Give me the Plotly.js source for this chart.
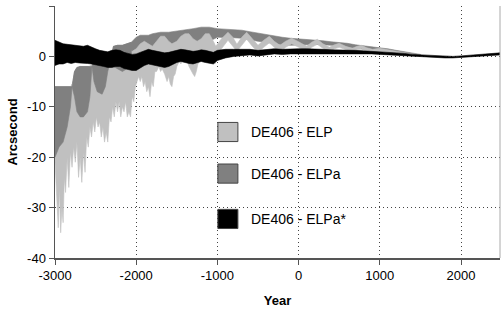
<!DOCTYPE html>
<html>
<head>
<meta charset="utf-8">
<script src="https://cdn.plot.ly/plotly-3.0.1.min.js"></script>
<style>html,body{margin:0;padding:0;background:#fff;}#chart{width:503px;height:309px;}</style>
</head>
<body>
<div id="chart"></div>
<script>
// Series names
const seriesNames = ["DE406 - ELP", "DE406 - ELPa", "DE406 - ELPa*"];

// DE406 - ELP (light gray): upper envelope
const elpUpYears = [-3000,-2900,-2830,-2790,-2750,-2700,-2660,-2620,-2580,-2540,-2500,-2450,-2400,-2360,-2320,-2280,-2240,-2200,-2150,-2100,-2050,-2000,-1950,-1900,-1850,-1800,-1750,-1700,-1650,-1600,-1560,-1500,-1450,-1400,-1350,-1300,-1250,-1200,-1150,-1100,-1050,-1020,-950,-870,-810,-760,-700,-640,-570,-500,-430,-360,-300,-230,-160,-85,0,100,160,230,300,380,440,500,580,660,720,775,840,910,1000,1100,1200,1300,1400,1500];
const elpUp      = [-14,-10,-7,-5.4,-5,-4,-3,-2.5,-2,-1.5,-2,-1.8,-1.5,-1,-0.8,1,1.5,2,2,1.5,1,1.5,2.5,3,2.5,2,3,4,4,3,2.5,3,4,4.5,4.5,3.5,3,3.5,4.5,4.5,3,2,3.5,4.8,3.8,2.4,3.8,4.8,3.5,2.2,3.2,4,3,2.2,3,3.6,2.9,2,2.8,3.4,2.5,1.8,2.3,2.6,2,1.6,2,2.2,1.7,1.4,1.6,1.3,1.0,0.8,0.5,0.3];
// DE406 - ELP (light gray): lower envelope (spiky)
const elpLowYears = [-3000,-2980,-2960,-2945,-2930,-2915,-2900,-2885,-2870,-2850,-2830,-2810,-2790,-2770,-2750,-2730,-2710,-2690,-2670,-2650,-2630,-2610,-2590,-2570,-2550,-2530,-2510,-2490,-2470,-2450,-2430,-2410,-2390,-2370,-2350,-2330,-2310,-2290,-2270,-2250,-2230,-2210,-2190,-2170,-2150,-2130,-2110,-2090,-2070,-2050,-2030,-2010,-1990,-1970,-1950,-1930,-1910,-1890,-1870,-1850,-1830,-1810,-1790,-1770,-1750,-1720,-1700,-1680,-1650,-1620,-1600,-1580,-1560,-1540,-1520,-1500,-1470,-1450,-1420,-1400,-1370,-1350,-1320,-1300,-1280,-1260,-1240,-1220,-1200,-1150,-1100,-1070,-1050,-1030,-1020,-1000,-950,-870,-810,-760,-700,-640,-570,-500,-430,-360,-300,-230,-160,-85,0,100,160,230,300,380,440,500,580,660,720,775,840,910,1000,1100,1200,1300,1400,1500];
const elpLow      = [-21,-28,-34,-26,-35,-30,-33,-24,-27,-20,-26,-19,-22,-18,-21,-17,-24,-20,-25,-19,-23,-16,-18,-14,-16,-13,-15,-12,-14,-13,-16,-14,-17,-15,-17,-12,-13,-10,-12,-9,-11,-9,-12,-10,-11,-9,-12,-11,-12,-8,-9,-6,-5,-4,-5,-4,-6,-5,-7,-6,-8,-5,-6,-3,-3,-2,-3,-2.5,-3.5,-5,-4,-5.5,-6,-4,-3.5,-2,-1,-1.5,-0.5,0,-1,-2,-3,-3.5,-4,-3,-1.5,-1,0,1,1,0,-0.5,-1.5,-0.5,0.5,1.5,3.2,2,1.0,2.2,3.4,2,0.8,1.8,2.7,1.8,0.9,1.8,2.5,1.8,0.9,1.8,2.4,1.6,0.9,1.5,1.8,1.3,0.9,1.3,1.5,1.1,0.9,1.0,0.8,0.6,0.4,0.2,0.0];

// DE406 - ELPa (dark gray): years, lower and upper envelope
const elpaYears = [-3000,-2950,-2900,-2850,-2810,-2790,-2760,-2730,-2690,-2650,-2600,-2570,-2545,-2520,-2480,-2420,-2380,-2350,-2320,-2280,-2230,-2170,-2120,-2060,-2000,-1950,-1900,-1850,-1800,-1700,-1600,-1500,-1400,-1300,-1200,-1100,-1000,-900,-800,-700,-600,-500,-400,-300,-200,-100,0,100,200,300,400,500,600,700,800,900,1000,1100,1200,1300,1400,1500];
const elpaLow  = [-20,-18,-17,-14,-10,-6,-8,-11,-12,-12,-11,-8,-2,-5,-7,-7.5,-6,-3,-1,-2,-2.5,-3,-2.5,-1.5,0,0.3,0,0.5,1,1.5,1.8,2,2.2,2.5,2.6,3,3.8,3.8,3.7,3.6,3.3,3,2.7,2.5,2.3,2.2,2.2,2.3,2.4,2.3,2.2,2.1,1.9,1.6,1.4,1.3,1.2,1.0,0.8,0.6,0.4,0.2];
const elpaHigh = [-6,-6,-6,-6,-6,-6,-3,-2.2,-2,-2,-2,-2,-2,-0.8,-0.8,-0.5,-0.5,-1,-1,2,2.2,2.2,2.5,2.8,3.8,4.2,4.2,4.2,4.5,4.8,4.8,5,5.2,5.5,5.8,5.8,5.5,5.4,5.3,5.2,4.9,4.6,4.3,4,3.8,3.6,3.5,3.4,3.3,3.1,2.9,2.8,2.6,2.3,2.1,1.9,1.8,1.5,1.2,0.9,0.6,0.4];

// DE406 - ELPa* (black)
const elpaStarYears = [-3000,-2950,-2900,-2850,-2800,-2750,-2700,-2650,-2600,-2550,-2500,-2450,-2400,-2350,-2300,-2250,-2200,-2150,-2100,-2050,-2000,-1950,-1900,-1850,-1800,-1750,-1700,-1650,-1600,-1550,-1500,-1450,-1400,-1350,-1300,-1250,-1200,-1150,-1100,-1050,-1000,-900,-800,-700,-600,-500,-400,-300,-200,-100,0,100,200,300,400,500,600,700,800,900,1000,1100,1200,1300,1400,1500,1600,1700,1800,1900,2000,2100,2200,2300,2400,2480];
const elpaStarLow  = [-1.8,-1.5,-1.5,-1.2,-1.4,-1.2,-1.3,-1.4,-1.4,-1.5,-1.7,-1.8,-2.0,-2.2,-2.2,-2.0,-2.0,-2.4,-2.6,-2.8,-2.8,-2.3,-1.8,-1.5,-1.6,-1.8,-2.0,-2.2,-2.0,-1.6,-1.2,-1.0,-1.2,-1.4,-1.5,-1.3,-1.0,-1.2,-1.4,-1.5,-0.8,-0.3,0.0,0.2,0.3,0.1,0.3,0.5,0.4,0.5,0.5,0.5,0.6,0.5,0.5,0.6,0.5,0.5,0.5,0.5,0.5,0.4,0.3,0.2,0.1,0.0,-0.1,-0.2,-0.3,-0.3,-0.2,-0.1,0.0,0.1,0.2,0.3];
const elpaStarHigh = [3.2,2.8,2.5,2.4,2.3,2.2,2.2,2.0,2.2,1.8,1.5,1.2,1.0,0.9,1.2,1.3,1.2,0.8,0.6,0.4,0.5,0.8,1.2,1.4,1.2,1.0,0.8,0.7,0.8,1.0,1.2,1.4,1.3,1.1,1.0,1.1,1.3,1.2,1.0,0.8,1.2,1.4,1.4,1.4,1.4,1.2,1.4,1.5,1.4,1.5,1.5,1.5,1.5,1.4,1.3,1.3,1.2,1.2,1.1,1.0,1.0,0.9,0.7,0.6,0.4,0.3,0.2,0.1,0.0,0.0,0.1,0.2,0.3,0.4,0.6,0.7];

// Axis ticks
const xTicks = [-3000,-2000,-1000,0,1000,2000];
const yTicks = [-40,-30,-20,-10,0,10];

const colors = ["#c0c0c0", "#808080", "#000000"];

function band(upX, upY, lowX, lowY, color, name) {
  return {
    type: "scatter", mode: "lines", name: name,
    x: upX.concat(lowX.slice().reverse()),
    y: upY.concat(lowY.slice().reverse()),
    fill: "toself", fillcolor: color,
    line: {color: color, width: 0.6},
    hoverinfo: "skip", showlegend: false
  };
}

// early part of ELPa lies over ELP in the reference
const nEarly = elpaYears.indexOf(-2060) + 1;
const traces = [
  band(elpaYears, elpaHigh, elpaYears, elpaLow, colors[1], seriesNames[1]),
  band(elpUpYears, elpUp, elpLowYears, elpLow, colors[0], seriesNames[0]),
  band(elpaYears.slice(0, nEarly), elpaHigh.slice(0, nEarly), elpaYears.slice(0, nEarly), elpaLow.slice(0, nEarly), colors[1], seriesNames[1]),
  band(elpaStarYears, elpaStarHigh, elpaStarYears, elpaStarLow, colors[2], seriesNames[2])
];

const font = "Arial, 'Liberation Sans', sans-serif";

// Legend (manual): boxes and labels
const legendY = [0.5, 0.335, 0.155];
const shapes = [];
const annotations = [];
seriesNames.forEach((n, i) => {
  shapes.push({type: "rect", xref: "paper", yref: "paper",
    x0: 0.366, x1: 0.411, y0: legendY[i] - 0.038, y1: legendY[i] + 0.038,
    fillcolor: colors[i], line: {color: "#444", width: 1}});
  annotations.push({xref: "paper", yref: "paper", x: 0.436, y: legendY[i],
    xanchor: "left", yanchor: "middle", text: n, showarrow: false,
    font: {family: font, size: 14, color: "#000"}});
});
shapes.push({type: "line", xref: "paper", yref: "paper", x0: 1, x1: 1, y0: 0, y1: 1,
  line: {color: "#aaaaaa", width: 1}});

const layout = {
  width: 503, height: 309,
  margin: {l: 55, r: 3, t: 6, b: 51},
  paper_bgcolor: "#fff", plot_bgcolor: "#fff",
  showlegend: false,
  font: {family: font, size: 13, color: "#000"},
  xaxis: {
    range: [-3000, 2480], tickvals: xTicks, ticktext: xTicks.map(String),
    showgrid: true, gridcolor: "#444", griddash: "1px,3px", gridwidth: 1,
    zeroline: false, showline: true, linecolor: "#555", linewidth: 1.5,
    ticks: "outside", ticklen: 5, tickcolor: "#555",
    title: {text: "<b>Year</b>", font: {family: font, size: 13}, standoff: 14}
  },
  yaxis: {
    range: [-40, 10], tickvals: yTicks, ticktext: yTicks.map(String),
    showgrid: true, gridcolor: "#444", griddash: "1px,3px", gridwidth: 1,
    zeroline: false, showline: true, linecolor: "#555", linewidth: 1.5,
    ticks: "outside", ticklen: 5, tickcolor: "#555",
    title: {text: "<b>Arcsecond</b>", font: {family: font, size: 13}, standoff: 6}
  },
  shapes: shapes,
  annotations: annotations
};

Plotly.newPlot("chart", traces, layout, {displayModeBar: false, staticPlot: true});
</script>
</body>
</html>
